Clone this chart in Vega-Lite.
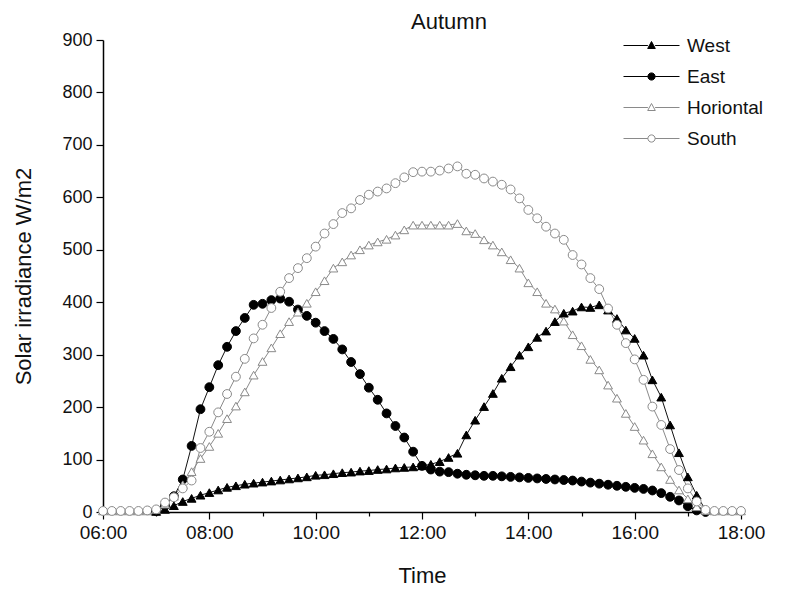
{
  "$schema": "https://vega.github.io/schema/vega-lite/v6.json",
  "width": 638,
  "height": 472,
  "autosize": "none",
  "padding": {"left": 103, "top": 40, "right": 51, "bottom": 80},
  "background": "white",
  "config": {"view": {"stroke": null}, "font": "Liberation Sans"},
  "title": {"text": "Autumn", "fontSize": 22, "fontWeight": "normal", "font": "Liberation Sans", "color": "#111111", "dx": 27, "offset": -3, "anchor": "middle"},
  "data": {"values": [
    {"m": 360, "West": null, "East": null, "Horiontal": 2, "South": 2},
    {"m": 370, "West": null, "East": null, "Horiontal": 2, "South": 2},
    {"m": 380, "West": null, "East": null, "Horiontal": 2, "South": 2},
    {"m": 390, "West": null, "East": null, "Horiontal": 2, "South": 2},
    {"m": 400, "West": null, "East": null, "Horiontal": 2, "South": 2},
    {"m": 410, "West": null, "East": null, "Horiontal": 2, "South": 3},
    {"m": 420, "West": 1, "East": 2, "Horiontal": 5, "South": 5},
    {"m": 430, "West": 5, "East": 12, "Horiontal": 15, "South": 18},
    {"m": 440, "West": 12, "East": 30, "Horiontal": 30, "South": 28},
    {"m": 450, "West": 20, "East": 62, "Horiontal": 52, "South": 45},
    {"m": 460, "West": 26, "East": 126, "Horiontal": 77, "South": 60},
    {"m": 470, "West": 32, "East": 196, "Horiontal": 102, "South": 122},
    {"m": 480, "West": 37, "East": 238, "Horiontal": 125, "South": 153},
    {"m": 490, "West": 42, "East": 280, "Horiontal": 150, "South": 190},
    {"m": 500, "West": 47, "East": 315, "Horiontal": 178, "South": 225},
    {"m": 510, "West": 50, "East": 345, "Horiontal": 202, "South": 258},
    {"m": 520, "West": 53, "East": 370, "Horiontal": 229, "South": 292},
    {"m": 530, "West": 55, "East": 395, "Horiontal": 261, "South": 331},
    {"m": 540, "West": 57, "East": 397, "Horiontal": 287, "South": 357},
    {"m": 550, "West": 59, "East": 404, "Horiontal": 313, "South": 389},
    {"m": 560, "West": 61, "East": 407, "Horiontal": 340, "South": 420},
    {"m": 570, "West": 63, "East": 401, "Horiontal": 363, "South": 446},
    {"m": 580, "West": 65, "East": 386, "Horiontal": 381, "South": 465},
    {"m": 590, "West": 67, "East": 374, "Horiontal": 398, "South": 484},
    {"m": 600, "West": 70, "East": 361, "Horiontal": 420, "South": 506},
    {"m": 610, "West": 71, "East": 345, "Horiontal": 441, "South": 531},
    {"m": 620, "West": 73, "East": 330, "Horiontal": 465, "South": 549},
    {"m": 630, "West": 75, "East": 310, "Horiontal": 477, "South": 570},
    {"m": 640, "West": 76, "East": 286, "Horiontal": 490, "South": 579},
    {"m": 650, "West": 78, "East": 263, "Horiontal": 500, "South": 595},
    {"m": 660, "West": 79, "East": 237, "Horiontal": 509, "South": 605},
    {"m": 670, "West": 81, "East": 214, "Horiontal": 515, "South": 611},
    {"m": 680, "West": 82, "East": 188, "Horiontal": 520, "South": 617},
    {"m": 690, "West": 84, "East": 164, "Horiontal": 528, "South": 627},
    {"m": 700, "West": 85, "East": 142, "Horiontal": 538, "South": 638},
    {"m": 710, "West": 86, "East": 115, "Horiontal": 547, "South": 648},
    {"m": 720, "West": 88, "East": 88, "Horiontal": 547, "South": 649},
    {"m": 730, "West": 91, "East": 81, "Horiontal": 547, "South": 649},
    {"m": 740, "West": 96, "East": 77, "Horiontal": 547, "South": 651},
    {"m": 750, "West": 104, "East": 76, "Horiontal": 547, "South": 655},
    {"m": 760, "West": 112, "East": 73, "Horiontal": 550, "South": 659},
    {"m": 770, "West": 147, "East": 71, "Horiontal": 536, "South": 645},
    {"m": 780, "West": 175, "East": 70, "Horiontal": 531, "South": 643},
    {"m": 790, "West": 201, "East": 69, "Horiontal": 519, "South": 636},
    {"m": 800, "West": 226, "East": 69, "Horiontal": 509, "South": 630},
    {"m": 810, "West": 255, "East": 68, "Horiontal": 496, "South": 624},
    {"m": 820, "West": 277, "East": 67, "Horiontal": 481, "South": 615},
    {"m": 830, "West": 299, "East": 66, "Horiontal": 465, "South": 598},
    {"m": 840, "West": 315, "East": 65, "Horiontal": 437, "South": 576},
    {"m": 850, "West": 333, "East": 64, "Horiontal": 420, "South": 560},
    {"m": 860, "West": 345, "East": 63, "Horiontal": 398, "South": 544},
    {"m": 870, "West": 363, "East": 62, "Horiontal": 387, "South": 531},
    {"m": 880, "West": 379, "East": 61, "Horiontal": 364, "South": 519},
    {"m": 890, "West": 383, "East": 60, "Horiontal": 338, "South": 490},
    {"m": 900, "West": 391, "East": 58, "Horiontal": 317, "South": 472},
    {"m": 910, "West": 390, "East": 56, "Horiontal": 291, "South": 446},
    {"m": 920, "West": 395, "East": 54, "Horiontal": 271, "South": 425},
    {"m": 930, "West": 385, "East": 52, "Horiontal": 242, "South": 388},
    {"m": 940, "West": 369, "East": 50, "Horiontal": 217, "South": 357},
    {"m": 950, "West": 347, "East": 48, "Horiontal": 188, "South": 322},
    {"m": 960, "West": 331, "East": 46, "Horiontal": 163, "South": 291},
    {"m": 970, "West": 299, "East": 44, "Horiontal": 137, "South": 252},
    {"m": 980, "West": 252, "East": 41, "Horiontal": 111, "South": 201},
    {"m": 990, "West": 219, "East": 36, "Horiontal": 86, "South": 166},
    {"m": 1000, "West": 166, "East": 29, "Horiontal": 62, "South": 120},
    {"m": 1010, "West": 113, "East": 22, "Horiontal": 42, "South": 80},
    {"m": 1020, "West": 67, "East": 11, "Horiontal": 25, "South": 45},
    {"m": 1030, "West": 32, "East": 3, "Horiontal": 10, "South": 20},
    {"m": 1040, "West": 4, "East": 0, "Horiontal": 3, "South": 4},
    {"m": 1050, "West": null, "East": null, "Horiontal": 2, "South": 2},
    {"m": 1060, "West": null, "East": null, "Horiontal": 2, "South": 2},
    {"m": 1070, "West": null, "East": null, "Horiontal": 2, "South": 2},
    {"m": 1080, "West": null, "East": null, "Horiontal": 2, "South": 2}
  ]},
  "transform": [
    {"fold": ["West", "East", "Horiontal", "South"], "as": ["series", "v"]},
    {"filter": "isValid(datum.v)"}
  ],
  "layer": [
    {
      "mark": {"type": "line", "strokeWidth": 1, "clip": false},
      "encoding": {
        "x": {"field": "m", "type": "quantitative",
          "scale": {"domain": [360, 1080], "nice": false, "zero": false},
          "axis": {
            "values": [360, 420, 480, 540, 600, 660, 720, 780, 840, 900, 960, 1020, 1080],
            "labelExpr": "datum.value % 120 == 0 ? ((datum.value / 60 < 10 ? '0' : '') + (datum.value / 60) + ':00') : ''",
            "title": "Time", "grid": false,
            "tickSize": {"condition": {"test": "datum.value % 120 == 0", "value": 7}, "value": 4},
            "domainColor": "black", "domainWidth": 1.5, "tickColor": "black", "tickWidth": 1.2,
            "labelColor": "#111111", "labelFontSize": 19, "labelFont": "Liberation Sans",
            "labelFlush": false, "labelOverlap": false, "labelPadding": 4,
            "titleFontSize": 22, "titleFontWeight": "normal", "titleColor": "#111111", "titleFont": "Liberation Sans", "titlePadding": 23
          }},
        "y": {"field": "v", "type": "quantitative",
          "scale": {"domain": [0, 900], "nice": false},
          "axis": {
            "values": [0, 50, 100, 150, 200, 250, 300, 350, 400, 450, 500, 550, 600, 650, 700, 750, 800, 850, 900],
            "labelExpr": "datum.value % 100 == 0 ? datum.value : ''",
            "title": "Solar irradiance W/m2", "grid": false,
            "tickSize": {"condition": {"test": "datum.value % 100 == 0", "value": 7}, "value": 4},
            "domainColor": "black", "domainWidth": 1.5, "tickColor": "black", "tickWidth": 1.2,
            "labelColor": "#111111", "labelFontSize": 18, "labelFont": "Liberation Sans",
            "labelFlush": false, "labelOverlap": false, "labelPadding": 4,
            "titleFontSize": 22, "titleFontWeight": "normal", "titleColor": "#111111", "titleFont": "Liberation Sans", "titlePadding": 26
          }},
        "stroke": {"field": "series", "type": "nominal",
          "scale": {"domain": ["West", "East", "Horiontal", "South"], "range": ["#111111", "#111111", "#8a8a8a", "#8a8a8a"]},
          "legend": null}
      }
    },
    {
      "mark": {"type": "point", "strokeWidth": 1, "size": 78, "opacity": 1, "clip": false},
      "encoding": {
        "x": {"field": "m", "type": "quantitative"},
        "y": {"field": "v", "type": "quantitative"},
        "shape": {"field": "series", "type": "nominal",
          "scale": {"domain": ["West", "East", "Horiontal", "South"], "range": ["triangle-up", "circle", "triangle-up", "circle"]},
          "legend": null},
        "fill": {"field": "series", "type": "nominal",
          "scale": {"domain": ["West", "East", "Horiontal", "South"], "range": ["#000000", "#000000", "#ffffff", "#ffffff"]},
          "legend": null},
        "stroke": {"field": "series", "type": "nominal",
          "scale": {"domain": ["West", "East", "Horiontal", "South"], "range": ["#000000", "#000000", "#8a8a8a", "#8a8a8a"]},
          "legend": null}
      }
    },
    {
      "transform": [{"filter": "false"}],
      "mark": {"type": "point", "strokeWidth": 1, "size": 64, "opacity": 1},
      "encoding": {
        "shape": {"field": "series", "type": "nominal",
          "scale": {"domain": ["West", "East", "Horiontal", "South"],
            "range": [
              "M-7,0L-0.9,0M0.9,0L7,0M0,-1L0.95,0.75L-0.95,0.75Z",
              "M-7,0L-0.9,0M0.9,0L7,0M-0.9,0A0.9,0.9 0 1,0 0.9,0A0.9,0.9 0 1,0 -0.9,0Z",
              "M-7,0L-0.9,0M0.9,0L7,0M0,-1L0.95,0.75L-0.95,0.75Z",
              "M-7,0L-0.9,0M0.9,0L7,0M-0.9,0A0.9,0.9 0 1,0 0.9,0A0.9,0.9 0 1,0 -0.9,0Z"
            ]},
          "legend": {"title": null, "orient": "none", "legendX": 539, "legendY": -4,
            "labelFontSize": 19, "labelFont": "Liberation Sans", "labelColor": "#111111",
            "labelOffset": 26, "rowPadding": 11, "symbolSize": 64, "symbolStrokeWidth": 1, "padding": 0}},
        "fill": {"field": "series", "type": "nominal",
          "scale": {"domain": ["West", "East", "Horiontal", "South"], "range": ["#000000", "#000000", "#ffffff", "#ffffff"]},
          "legend": {"title": null, "orient": "none", "legendX": 539, "legendY": -4,
            "labelFontSize": 19, "labelFont": "Liberation Sans", "labelColor": "#111111",
            "labelOffset": 26, "rowPadding": 11, "symbolSize": 64, "symbolStrokeWidth": 1, "padding": 0}},
        "stroke": {"field": "series", "type": "nominal",
          "scale": {"domain": ["West", "East", "Horiontal", "South"], "range": ["#000000", "#000000", "#8a8a8a", "#8a8a8a"]},
          "legend": {"title": null, "orient": "none", "legendX": 539, "legendY": -4,
            "labelFontSize": 19, "labelFont": "Liberation Sans", "labelColor": "#111111",
            "labelOffset": 26, "rowPadding": 11, "symbolSize": 64, "symbolStrokeWidth": 1, "padding": 0}}
      }
    }
  ],
  "resolve": {
    "scale": {"shape": "independent", "fill": "independent", "stroke": "independent"},
    "legend": {"shape": "independent", "fill": "independent", "stroke": "independent"}
  }
}
